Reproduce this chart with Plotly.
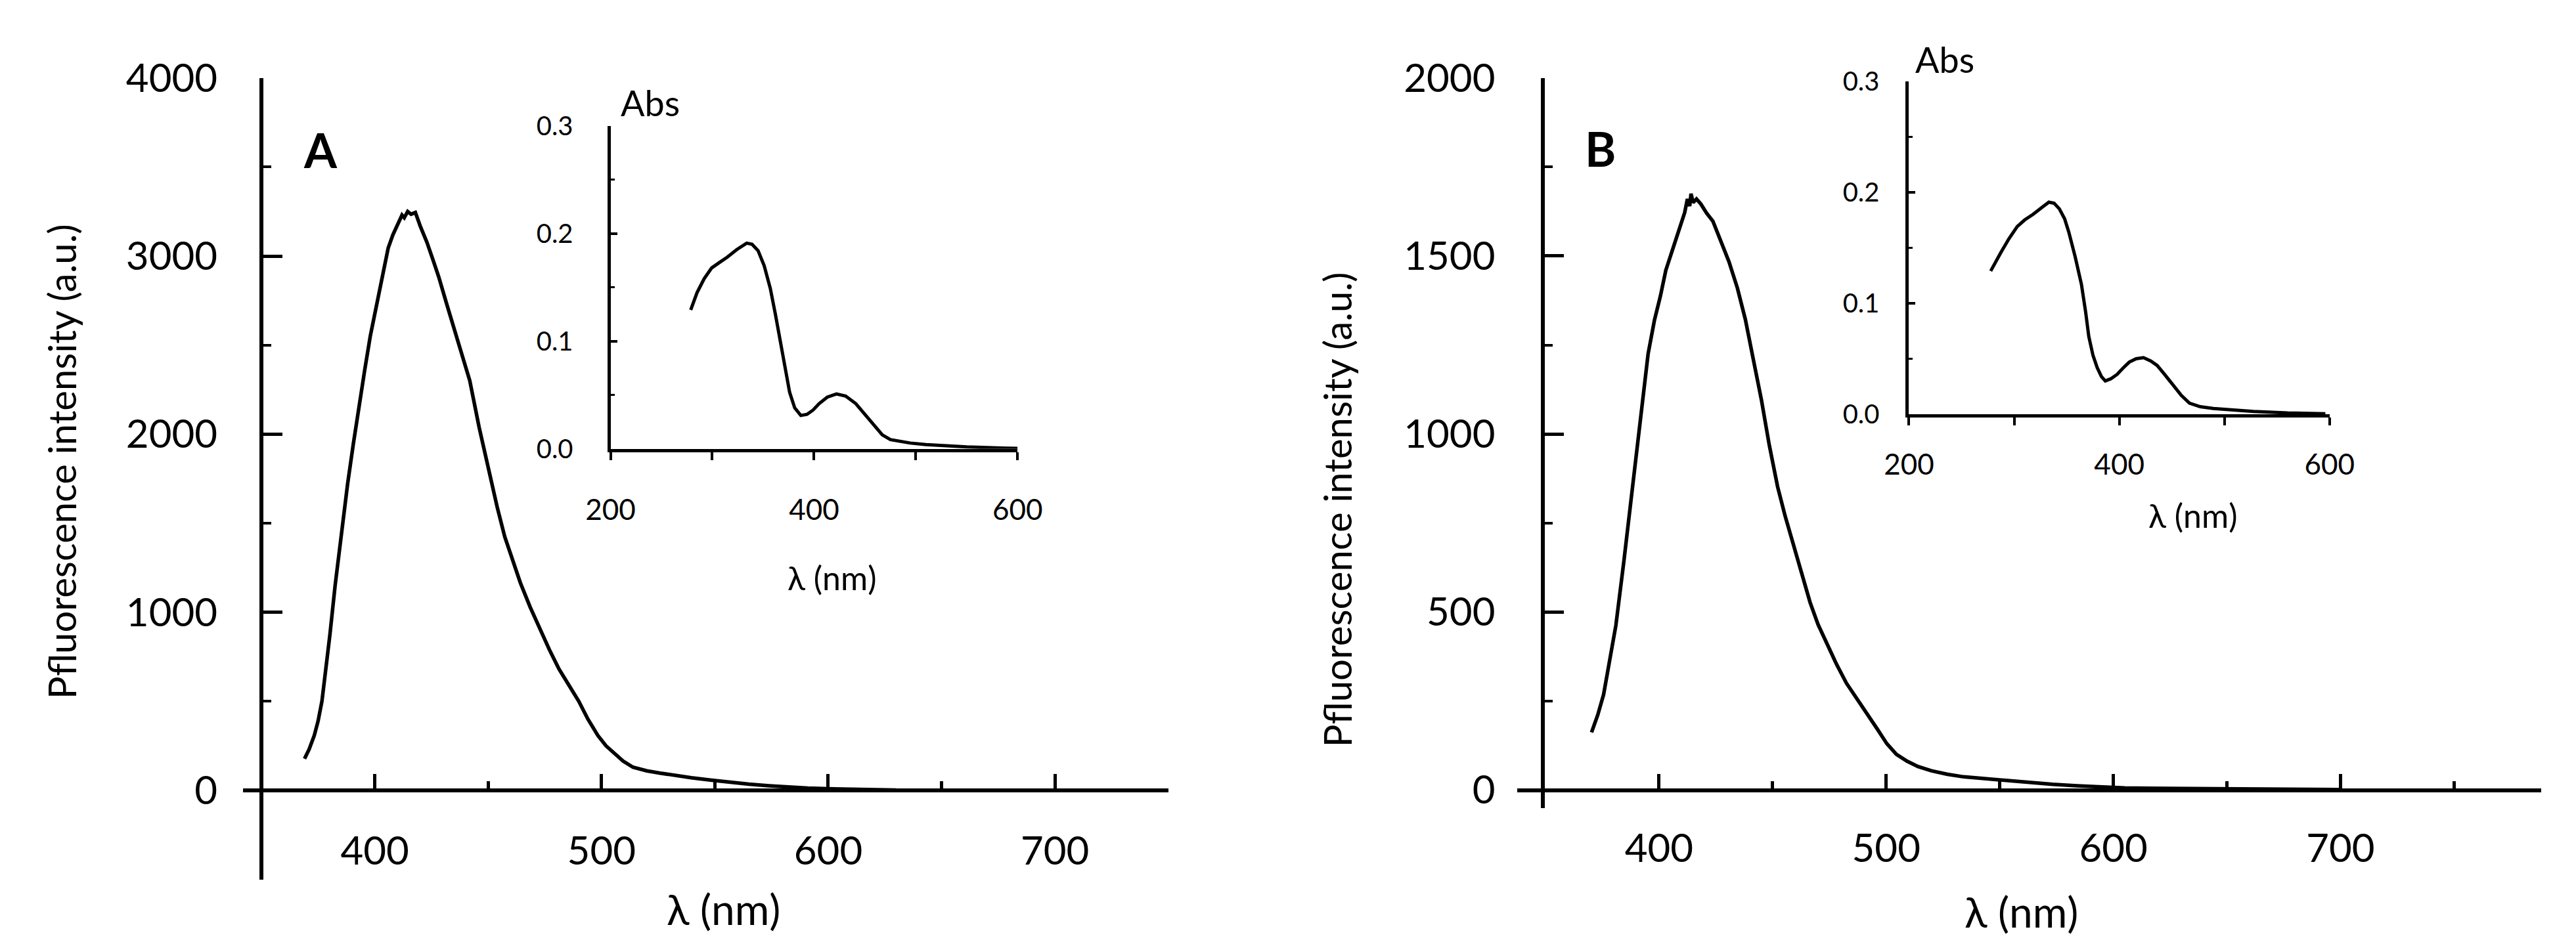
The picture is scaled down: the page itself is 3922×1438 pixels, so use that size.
import plotly.graph_objects as go

W, H = 3922, 1438

# ---------------- data ----------------
a_wl = [369, 371, 373.3, 375, 376.7, 378.5, 380.2, 382.5, 385.3, 388, 390.5, 393, 395.6, 398, 400.7,
        403.5, 405.9, 408, 410, 412, 413, 414.5, 416, 417.9, 420, 423, 425.5, 428.2, 431.5, 435,
        438.5, 441.9, 446, 450.4, 454, 457.3, 461, 464.2, 468.5, 472.7, 477, 481.3, 485.5, 489.9,
        494, 498.4, 502, 505.3, 509.5, 513.9, 520, 525.9, 532, 539.6, 548, 556.7, 565, 573.9, 582,
        591, 600, 608, 616, 625, 630]
a_int = [178, 230, 308, 390, 502, 680, 874, 1150, 1457, 1720, 1943, 2160, 2364, 2550, 2721,
         2890, 3045, 3120, 3180, 3230, 3215, 3250, 3235, 3245, 3170, 3077, 2985, 2883, 2740, 2591,
         2450, 2300, 2040, 1781, 1590, 1425, 1290, 1166, 1030, 907, 790, 680, 590, 502,
         400, 308, 250, 211, 165, 130, 110, 97, 84, 71, 58, 45, 35, 26, 19,
         13, 9, 6, 4, 3, 2]

b_wl = [370.3, 373, 375.6, 378, 381, 384.5, 388.1, 391.7, 395.2, 398, 400.6, 403, 405.9, 408.5,
        411.3, 412.5, 413.5, 414.1, 415, 416.5, 418.4, 421, 423.7, 427, 430.8, 434.5, 438, 441.5,
        445.1, 448.5, 452.2, 455.5, 459.3, 463, 466.5, 470, 473.6, 478, 482.5, 487, 491.4, 496,
        500.3, 504.5, 509.2, 514, 519.9, 527, 534.1, 543, 552, 563, 573.3, 584, 594.7, 605, 616,
        630, 642.7, 670, 700]
b_int = [162, 210, 268, 350, 462, 641, 835, 1046, 1225, 1320, 1387, 1460, 1517, 1575,
         1622, 1660, 1640, 1675, 1650, 1660, 1646, 1620, 1598, 1545, 1484, 1410, 1322, 1210,
         1095, 970, 852, 770, 689, 605, 527, 465, 414, 355, 300, 258, 219, 172,
         130, 100, 81, 66, 54, 44, 37, 32, 28, 22, 16, 12, 8, 6, 5,
         4, 3, 2, 1]

ia_wl = [278.8, 285, 292, 299.4, 307, 314.7, 324, 333.8, 339, 345, 351, 357, 362, 368, 372, 376,
         381, 387, 393, 399, 405, 413, 422, 431, 441, 450, 460, 467, 475, 484, 494.5, 510, 525,
         550, 575, 600]
ia_abs = [0.129, 0.145, 0.158, 0.168, 0.173, 0.178, 0.185, 0.191, 0.190, 0.184, 0.170, 0.149,
          0.125, 0.095, 0.073, 0.0525, 0.038, 0.031, 0.032, 0.036, 0.042, 0.048, 0.051, 0.049,
          0.042, 0.032, 0.020, 0.013, 0.0086, 0.0068, 0.0054, 0.004, 0.003, 0.0018, 0.001, 0.0005]

ib_wl = [277.7, 282, 287.6, 295, 302.9, 310, 318, 326, 333, 338, 343, 348, 352, 358, 364, 368,
         371, 375, 379, 383, 386.7, 392, 398, 404, 409.5, 416, 423, 430, 436, 443, 451, 459,
         466.7, 477, 489.5, 510, 527.6, 560, 596]
ib_abs = [0.129, 0.137, 0.146, 0.158, 0.169, 0.175, 0.180, 0.186, 0.191, 0.190, 0.185, 0.176,
          0.164, 0.142, 0.117, 0.092, 0.070, 0.053, 0.042, 0.034, 0.030, 0.032, 0.036, 0.042,
          0.047, 0.050, 0.051, 0.048, 0.044, 0.036, 0.026, 0.017, 0.010, 0.0068, 0.0052, 0.0037,
          0.0026, 0.0012, 0.0005]

main_xticks = [400, 500, 600, 700]
main_xminor = [450, 550, 650, 750]
a_yticks = [0, 1000, 2000, 3000, 4000]
a_yminor = [500, 1500, 2500, 3500]
b_yticks = [0, 500, 1000, 1500, 2000]
b_yminor = [250, 750, 1250, 1750]
ins_xticks = [200, 400, 600]
ins_xminor = [300, 500]
ins_yticks = [0, 0.1, 0.2, 0.3]
ins_yminor = [0.05, 0.15, 0.25]

FONT = "Lato, 'Noto Sans', sans-serif"


def px(x):
    return x / W


def py(y):
    return 1 - y / H


fig = go.Figure()
line = dict(color="black", width=5.5)
fig.add_trace(go.Scatter(x=a_wl, y=a_int, mode="lines", line=line, xaxis="x", yaxis="y"))
fig.add_trace(go.Scatter(x=ia_wl, y=ia_abs, mode="lines", line=dict(color="black", width=5),
                         xaxis="x2", yaxis="y2"))
fig.add_trace(go.Scatter(x=b_wl, y=b_int, mode="lines", line=line, xaxis="x3", yaxis="y3"))
fig.add_trace(go.Scatter(x=ib_wl, y=ib_abs, mode="lines", line=dict(color="black", width=5),
                         xaxis="x4", yaxis="y4"))


def main_x(dom, rng, pos, standoff):
    return dict(domain=dom, range=rng, anchor="free", position=pos, showline=True,
                linecolor="black", linewidth=6, ticks="inside", ticklen=22, tickwidth=5,
                tickcolor="black", tickvals=main_xticks,
                minor=dict(tickvals=main_xminor, ticks="inside", ticklen=11, tickwidth=5,
                           tickcolor="black"),
                showgrid=False, zeroline=False, tickfont=dict(family=FONT, size=60, color="black"),
                ticklabelstandoff=standoff)


def main_y(dom, rng, pos, tv, mv, standoff):
    return dict(domain=dom, range=rng, anchor="free", position=pos, showline=True,
                linecolor="black", linewidth=6, ticks="inside", ticklen=29, tickwidth=5,
                tickcolor="black", tickvals=tv,
                minor=dict(tickvals=mv, ticks="inside", ticklen=12, tickwidth=4, tickcolor="black"),
                showgrid=False, zeroline=False, tickfont=dict(family=FONT, size=60, color="black"),
                ticklabelstandoff=standoff)


def ins_x(dom, anchor, standoff):
    return dict(domain=dom, range=[200, 600], anchor=anchor, showline=True, linecolor="black",
                linewidth=5, ticks="outside", ticklen=12, tickwidth=4, tickcolor="black",
                tickvals=ins_xticks,
                minor=dict(tickvals=ins_xminor, ticks="outside", ticklen=12, tickwidth=4,
                           tickcolor="black"),
                showgrid=False, zeroline=False, tickfont=dict(family=FONT, size=44, color="black"),
                ticklabelstandoff=standoff)


def ins_y(dom, anchor, standoff):
    return dict(domain=dom, range=[0, 0.3], anchor=anchor, showline=True, linecolor="black",
                linewidth=5, ticks="inside", ticklen=10, tickwidth=4, tickcolor="black",
                tickvals=ins_yticks, tickformat=".1f",
                minor=dict(tickvals=ins_yminor, ticks="inside", ticklen=6, tickwidth=3,
                           tickcolor="black"),
                showgrid=False, zeroline=False, tickfont=dict(family=FONT, size=40, color="black"),
                ticklabelstandoff=standoff)


# panel A geometry (pixels)
ax0, ax1 = 330, 1767
ay_axis = 359
a_scale = (ax1 - ay_axis) / 400
a_xrange = [350 - (ay_axis - ax0) / a_scale, 750]
# panel B geometry (pixels)
bx0, bx1 = 2309, 3899
by_axis = 2349
b_scale = 3.527
b_start = 349
b_xrange = [b_start - (by_axis - bx0) / b_scale, b_start + (bx1 - by_axis) / b_scale]

fig.update_layout(
    width=W, height=H, margin=dict(l=0, r=0, t=0, b=0),
    paper_bgcolor="white", plot_bgcolor="rgba(0,0,0,0)", showlegend=False,
    font=dict(family=FONT, color="black"),
    xaxis=main_x([px(ax0), px(ax1)], a_xrange, py(1209), 38),
    yaxis=main_y([py(1351), py(76)], [-500, 4000], px(ay_axis), a_yticks, a_yminor, 52),
    xaxis2=ins_x([px(901), px(1533)], "y2", 38),
    yaxis2=ins_y([py(666), py(152)], "x2", 44),
    xaxis3=main_x([px(bx0), px(bx1)], b_xrange, py(1209), 34),
    yaxis3=main_y([py(1237), py(76)], [-50, 2000], px(by_axis), b_yticks, b_yminor, 58),
    xaxis4=ins_x([px(2917), px(3570)], "y4", 22),
    yaxis4=ins_y([py(611), py(81)], "x4", 32),
)


def ann(text, x, y, size, angle=0, bold=False):
    fig.add_annotation(text=f"<b>{text}</b>" if bold else text, x=px(x), y=py(y),
                       xref="paper", yref="paper", xanchor="center", yanchor="middle",
                       showarrow=False, textangle=angle,
                       font=dict(family=FONT, size=size, color="black"))


ann("Pfluorescence intensity (a.u.)", 49, 686, 58, angle=-90)
ann("Pfluorescence intensity (a.u.)", 2029, 763, 58, angle=-90)
ann("λ (nm)", 1076, 1398, 64)
ann("λ (nm)", 3091, 1402, 64)
ann("A", 451, 190, 72, bold=True)
ann("B", 2438, 188, 72, bold=True)
ann("Abs", 963, 115, 54)
ann("Abs", 2973, 46, 54)
ann("λ (nm)", 1245, 871, 50)
ann("λ (nm)", 3358, 772, 50)

fig.write_html("out.html")
